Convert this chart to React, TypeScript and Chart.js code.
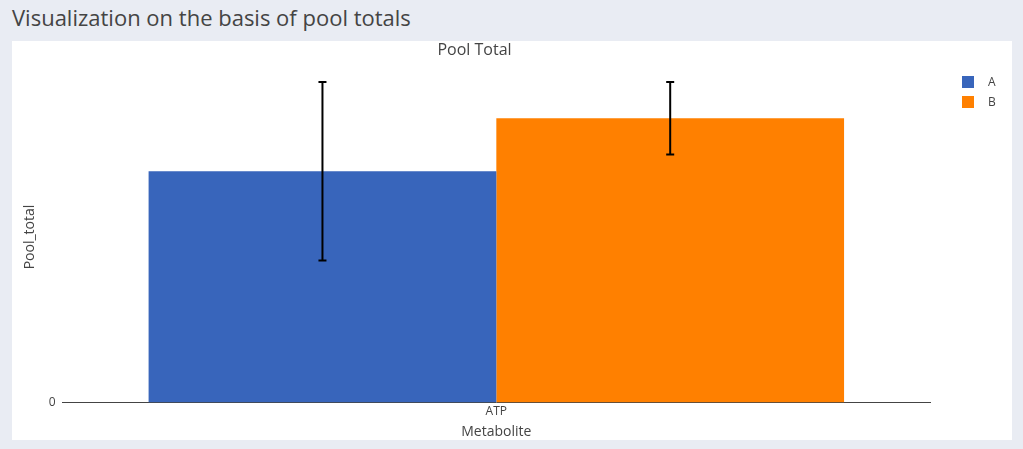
import { useEffect, useRef } from "react";
import Chart from "chart.js/auto";

const categories = ["ATP"];
const groups = ["A", "B"];
const poolA = [96000];
const poolB = [118000];
const errA = [37000];
const errB = [15000];
const colors = ["#3865bb", "#ff8000"];

const errorBars = {
  id: "errorBars",
  afterDatasetsDraw(chart: any) {
    const ctx = chart.ctx;
    const y = chart.scales.y;
    const errs = [errA, errB];
    chart.data.datasets.forEach((ds: any, di: number) => {
      const meta = chart.getDatasetMeta(di);
      meta.data.forEach((bar: any, i: number) => {
        const v = ds.data[i];
        const e = errs[di][i];
        const top = y.getPixelForValue(v + e);
        const bot = y.getPixelForValue(v - e);
        ctx.save();
        ctx.strokeStyle = "#000";
        ctx.lineWidth = 2;
        ctx.beginPath();
        ctx.moveTo(bar.x, top);
        ctx.lineTo(bar.x, bot);
        ctx.moveTo(bar.x - 4, top);
        ctx.lineTo(bar.x + 4, top);
        ctx.moveTo(bar.x - 4, bot);
        ctx.lineTo(bar.x + 4, bot);
        ctx.stroke();
        ctx.restore();
      });
    });
  },
};

export default function App() {
  const canvasRef = useRef<HTMLCanvasElement | null>(null);
  const chartInstance = useRef<Chart | null>(null);

  useEffect(() => {
    if (!canvasRef.current) return;
    chartInstance.current?.destroy();
    const font = { family: "'Open Sans', 'Liberation Sans', sans-serif", size: 12 };
    chartInstance.current = new Chart(canvasRef.current, {
      type: "bar",
      data: {
        labels: categories,
        datasets: [
          { label: groups[0], data: poolA, backgroundColor: colors[0] },
          { label: groups[1], data: poolB, backgroundColor: colors[1] },
        ],
      },
      options: {
        animation: false,
        responsive: false,
        layout: { padding: { left: 6, right: 81, bottom: 0 } },
        datasets: { bar: { barPercentage: 1, categoryPercentage: 0.8 } },
        plugins: {
          legend: { display: false },
          tooltip: { enabled: false },
          title: {
            display: true,
            text: "Pool Total",
            color: "#444",
            font: { ...font, size: 16, weight: "normal" },
            padding: { top: 0, bottom: 11 },
          },
        },
        scales: {
          x: {
            grid: { display: false, drawTicks: false },
            border: { display: false },
            ticks: { color: "#444", font, padding: 2 },
            title: {
              display: true,
              text: "Metabolite",
              color: "#444",
              font: { ...font, size: 14 },
              padding: { top: 2, bottom: 0 },
            },
          },
          y: {
            min: 0,
            max: 137500,
            ticks: {
              stepSize: 20000,
              color: "#444",
              font,
              padding: 6,
              callback: (v: any) => {
                const n = Number(v);
                if (Math.abs(n / 20000 - Math.round(n / 20000)) > 1e-6) return null;
                return n === 0 ? "0" : Math.round(n / 1000) + "k";
              },
            },
            grid: {
              color: (c: any) => (c.tick && c.tick.value === 0 ? "#444" : "#eee"),
              drawTicks: false,
            },
            border: { display: false },
            title: { display: true, text: "Pool_total", color: "#444", font: { ...font, size: 14 } },
          },
        },
      },
      plugins: [errorBars],
    });
    return () => {
      chartInstance.current?.destroy();
    };
  }, []);

  const fam = "'Open Sans', 'Liberation Sans', sans-serif";
  return (
    <div style={{ position: "fixed", inset: 0, background: "#e9ecf3", fontFamily: fam }}>
      <div style={{ position: "absolute", left: 12, top: 2, fontSize: 22, color: "#444" }}>
        Visualization on the basis of pool totals
      </div>
      <div style={{ position: "absolute", left: 12, top: 41, width: 1000, height: 399, background: "#fff" }}>
        <canvas ref={canvasRef} width={1000} height={399} />
        {groups.map((g, i) => (
          <div
            key={g}
            style={{ position: "absolute", left: 950, top: 32 + i * 20, fontSize: 12, color: "#444", display: "flex", alignItems: "center" }}
          >
            <span style={{ width: 12, height: 12, background: colors[i], display: "inline-block", marginRight: 14 }} />
            {g}
          </div>
        ))}
      </div>
    </div>
  );
}
